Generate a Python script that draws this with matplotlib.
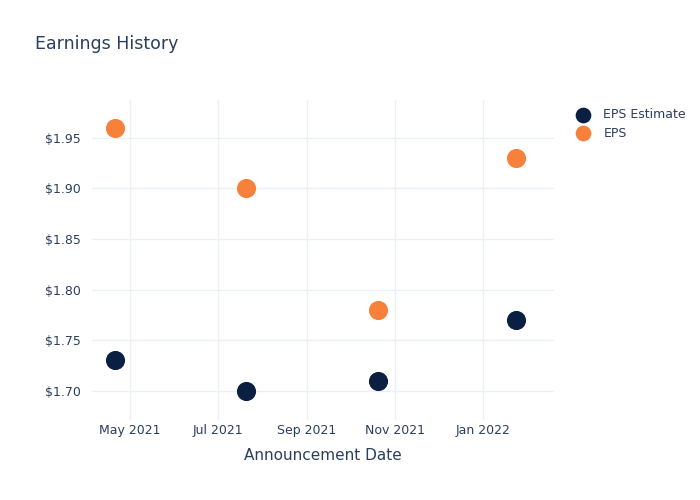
import pandas as pd
import numpy as np
import matplotlib.pyplot as plt
import matplotlib.dates as mdates
from matplotlib.ticker import FuncFormatter

# data
dates = pd.to_datetime(["2021-04-21", "2021-07-21", "2021-10-20", "2022-01-24"])
eps_estimate = [1.73, 1.70, 1.71, 1.77]
eps_actual = [1.96, 1.90, 1.78, 1.93]

navy = "#0b1f42"
orange = "#f7813a"
text_col = "#2a3f5f"
grid_col = "#ebf0f8"

fig = plt.figure(figsize=(7, 5), dpi=100)
ax = fig.add_axes([92 / 700, 80 / 500, 462 / 700, 320 / 500])

ax.scatter(dates, eps_estimate, s=190, color=navy, label="EPS Estimate", zorder=3, linewidths=0)
ax.scatter(dates, eps_actual, s=190, color=orange, label="EPS", zorder=3, linewidths=0)

ax.set_xlim(pd.Timestamp("2021-04-05"), pd.Timestamp("2022-02-19"))
ax.set_ylim(1.671, 1.9875)
ax.set_yticks([1.70, 1.75, 1.80, 1.85, 1.90, 1.95])
ax.yaxis.set_major_formatter(FuncFormatter(lambda v, p: f"${v:.2f}"))
ax.set_xticks(pd.to_datetime(["2021-05-01", "2021-07-01", "2021-09-01", "2021-11-01", "2022-01-01"]))
ax.xaxis.set_major_formatter(mdates.DateFormatter("%b %Y"))

ax.grid(True, color=grid_col, linewidth=1)
ax.set_axisbelow(True)
for s in ax.spines.values():
    s.set_visible(False)
ax.tick_params(length=0, colors=text_col, labelsize=9)
ax.tick_params(axis="x", pad=3)
ax.tick_params(axis="y", pad=8)

ax.set_xlabel("Announcement Date", color=text_col, fontsize=11, labelpad=8)
fig.text(35 / 700, 1 - 44 / 500, "Earnings History", color=text_col, fontsize=12.5, va="center")

leg = ax.legend(loc="upper left", bbox_to_anchor=(1.012, 1.01), frameon=False,
                fontsize=9, handletextpad=0.6, labelspacing=0.45, markerscale=0.82)
for t in leg.get_texts():
    t.set_color(text_col)

fig.savefig("out.png", dpi=100)
